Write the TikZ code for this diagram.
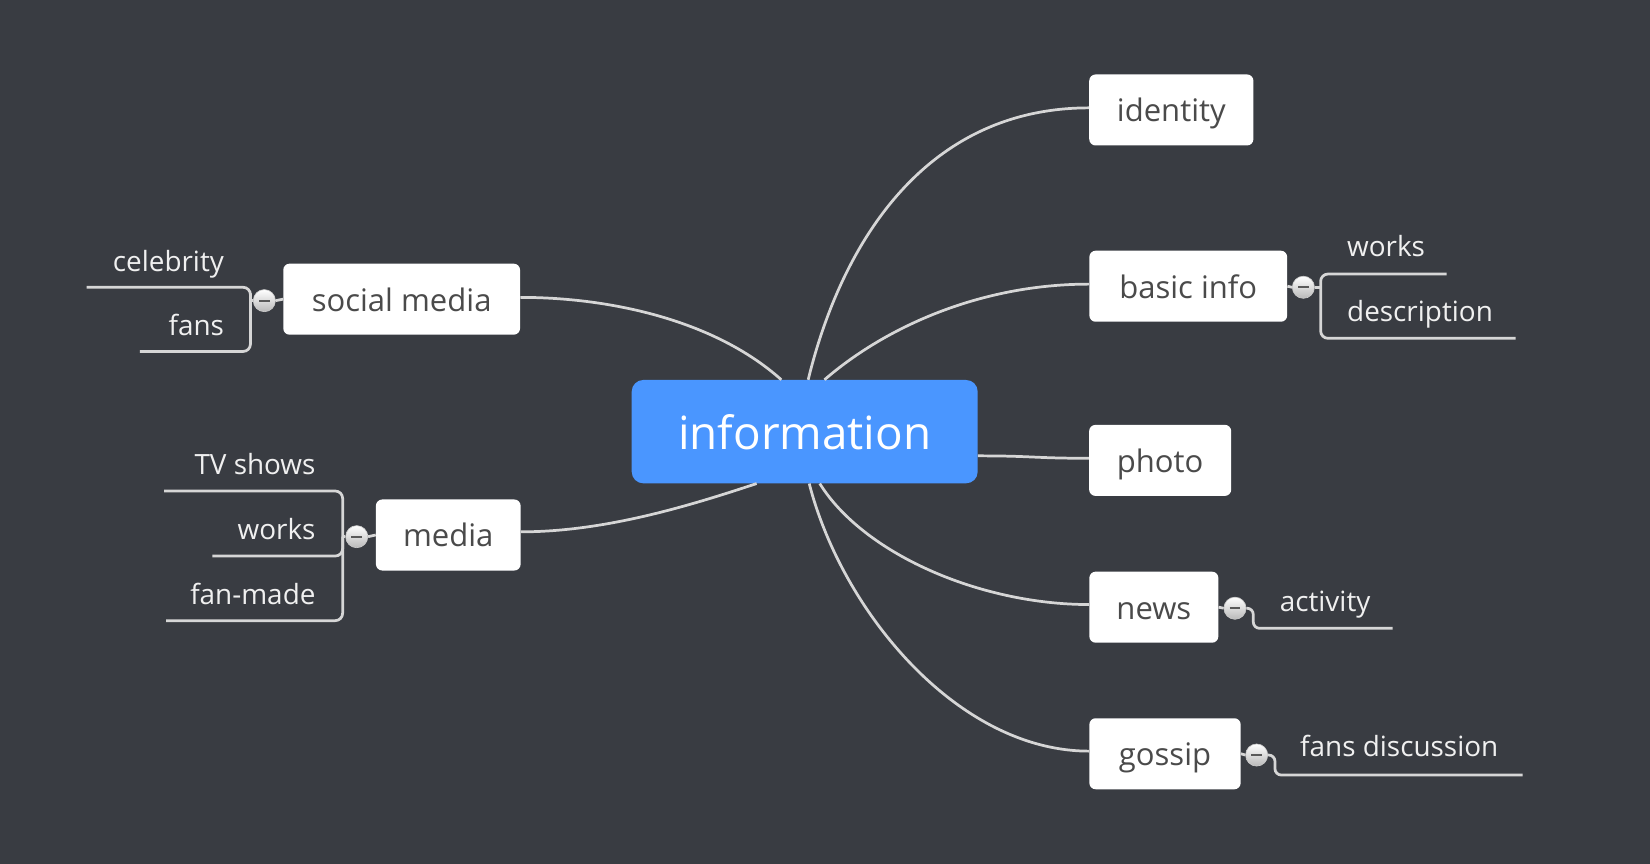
\documentclass[tikz,border=0pt]{standalone}
\usepackage{fontspec}
\setmainfont{Open Sans}
\usetikzlibrary{positioning}

\definecolor{canvas}{HTML}{393C42}
\definecolor{rootblue}{HTML}{4A96FF}
\definecolor{linegray}{HTML}{D6D6D6}
\definecolor{boxtext}{HTML}{4A4A4A}

\tikzset{
    rootbox/.style  = {rectangle, rounded corners=11pt, fill=rootblue, text=white, inner sep=0pt,
                       font=\fontsize{43.5}{50}\selectfont, text height=33pt, text depth=0pt},
    topicbox/.style = {rectangle, rounded corners=6pt, fill=white, text=boxtext, inner sep=0pt,
                       minimum height=67.5pt, font=\fontsize{29.5}{35}\selectfont,
                       text height=22.6pt, text depth=0pt},
    leaflabel/.style = {inner sep=0pt, text=white!94!black, font=\fontsize{26.5}{31}\selectfont},
    branch/.style   = {draw=linegray, line width=2.6pt},
    toggle/.style   = {circle, minimum size=21pt, inner sep=0pt, top color=white, bottom color=gray!55,
                       draw=gray!40, line width=0.6pt,
                       path picture={\draw[gray!70!black, line width=2pt]
                           ([xshift=-5pt]path picture bounding box.center) --
                           ([xshift=5pt]path picture bounding box.center);}}
}

\begin{document}
\begin{tikzpicture}[x=1pt, y=-1pt]
        \fill[canvas] (0,0) rectangle (1568,821);
        \useasboundingbox (0,0) rectangle (1568,821);
        % ---------------------------------------------------------------------------
        % Draw nodes
        % ---------------------------------------------------------------------------
        \node[  rootbox,
                minimum width = 328.8pt,
                minimum height = 98.2pt]  (Info) at (764.7,410.2) {information};

        \node[  topicbox,
                minimum width = 156pt]    (Identity) at (1113.1,104.5) {identity};

        \node[  topicbox,
                minimum width = 188pt]    (Basic) at (1129.2,272) {basic info};

        \node[  topicbox,
                minimum width = 135pt]    (Photo) at (1102.5,437.5) {photo};

        \node[  topicbox,
                minimum width = 122.6pt]  (News) at (1096.5,577) {news};

        \node[  topicbox,
                minimum width = 143.8pt]  (Gossip) at (1107.1,716.3) {gossip};

        \node[  topicbox,
                minimum width = 225pt]    (Social) at (381.7,284.3) {social media};

        \node[  topicbox,
                minimum width = 137.5pt]  (Media) at (426,508.4) {media};

        % ---------------------------------------------------------------------------
        % Sub topics
        % ---------------------------------------------------------------------------
        \node[leaflabel, anchor=base east]  (Celebrity) at (213,258)    {celebrity};
        \node[leaflabel, anchor=base east]  (Fans)      at (213,318.4)  {fans};
        \node[leaflabel, anchor=base east]  (TVShows)   at (300,450.8)  {TV shows};
        \node[leaflabel, anchor=base east]  (WorksM)    at (300,512.5)  {works};
        \node[leaflabel, anchor=base east]  (FanMade)   at (300,574)    {fan-made};
        \node[leaflabel, anchor=base west]  (WorksB)    at (1280,244)   {works};
        \node[leaflabel, anchor=base west]  (Descr)     at (1280,305.7) {description};
        \node[leaflabel, anchor=base west]  (Activity)  at (1216,581.3) {activity};
        \node[leaflabel, anchor=base west]  (FansDisc)  at (1235.4,719) {fans discussion};

        \coordinate (CelebrityEnd) at (82.4,273);
        \coordinate (FansEnd)      at (133,334);
        \coordinate (SocialFork)   at (238,285.7);
        \coordinate (TVShowsEnd)   at (156,466.6);
        \coordinate (WorksMEnd)    at (201.8,528.4);
        \coordinate (FanMadeEnd)   at (157.8,589.8);
        \coordinate (MediaFork)    at (325.6,510);
        \coordinate (WorksBEnd)    at (1374.8,260.4);
        \coordinate (DescrEnd)     at (1440.3,321.5);
        \coordinate (BasicFork)    at (1255,273);
        \coordinate (NewsStep)     at (1191,597.1);
        \coordinate (ActivityEnd)  at (1323.5,597.1);
        \coordinate (GossipStep)   at (1211.6,736.5);
        \coordinate (FansDiscEnd)  at (1447,736.5);

        % ---------------------------------------------------------------------------
        % Draw branches
        % ---------------------------------------------------------------------------
        \draw [branch] ([xshift=3.3pt]Info.north)   .. controls +(32,-131) and +(-155,0) .. ([yshift=2pt]Identity.west);   % identity
        \draw [branch] ([xshift=18.8pt]Info.north)  .. controls +(56.5,-49) and +(-105,0) .. ([yshift=2pt]Basic.west);     % basic info
        \draw [branch] ([yshift=-23pt]Info.east)    .. controls +(53,0) and +(-53,0) .. ([yshift=2pt]Photo.west);          % photo
        \draw [branch] ([xshift=14.3pt]Info.south)  .. controls +(41,66) and +(-105,0) .. ([yshift=2.5pt]News.west);       % news
        \draw [branch] ([xshift=4.3pt]Info.south)   .. controls +(31,121) and +(-125,0) .. ([yshift=2.5pt]Gossip.west);    % gossip
        \draw [branch] ([xshift=-22.2pt]Info.north) .. controls +(-62.5,-56) and +(87,0) .. ([yshift=1.7pt]Social.east);   % social media
        \draw [branch] ([xshift=-45.7pt]Info.south) .. controls +(-69,23) and +(77,0) .. ([yshift=3pt]Media.east);         % media

        % brackets to the sub topics
        \draw [branch, rounded corners=7pt] (CelebrityEnd) -| (SocialFork) |- (FansEnd);
        \draw [branch, rounded corners=7pt] (TVShowsEnd) -| (MediaFork) |- (FanMadeEnd);
        \draw [branch, rounded corners=7pt] (WorksMEnd) -| (MediaFork);
        \draw [branch, rounded corners=7pt] (WorksBEnd) -| (BasicFork) |- (DescrEnd);

        % toggles
        \node[toggle] (SocialToggle) at (251.2,285.7) {};
        \node[toggle] (MediaToggle)  at (339,510)     {};
        \node[toggle] (BasicToggle)  at (1238.6,273)  {};
        \node[toggle] (NewsToggle)   at (1173.6,578)  {};
        \node[toggle] (GossipToggle) at (1194.2,717.5) {};

        \draw [branch] (Social.west) -- (SocialToggle.east);
        \draw [branch] (Media.west)  -- (MediaToggle.east);
        \draw [branch] (Basic.east)  -- (BasicToggle.west);
        \draw [branch] (News.east)   -- (NewsToggle.west);
        \draw [branch] (Gossip.east) -- (GossipToggle.west);
        \draw [branch, rounded corners=6pt] (NewsToggle.east) -| (NewsStep) -- (ActivityEnd);
        \draw [branch, rounded corners=6pt] (GossipToggle.east) -| (GossipStep) -- (FansDiscEnd);
        \draw [branch] (SocialToggle.west) -- (SocialFork);
        \draw [branch] (MediaToggle.west)  -- (MediaFork);
        \draw [branch] (BasicToggle.east)  -- (BasicFork);

\end{tikzpicture}
\end{document}
